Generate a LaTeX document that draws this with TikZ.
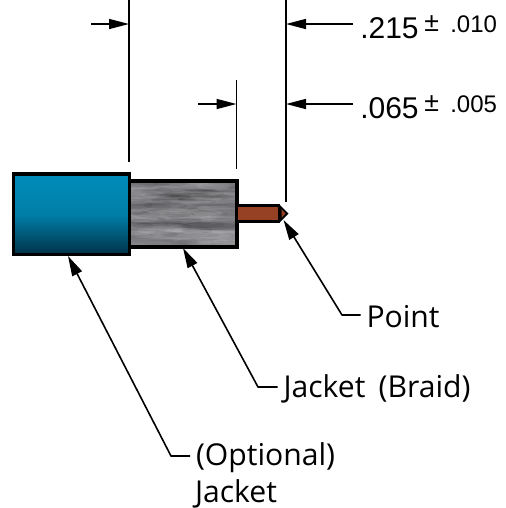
\documentclass[tikz,border=0pt]{standalone}
\usepackage{fontspec}
\setmainfont[WordSpace=1.7]{Open Sans}
\newfontfamily\dimfont{Liberation Sans}
\usetikzlibrary{arrows.meta}
\definecolor{teal1}{RGB}{0,140,185}
\definecolor{teal2}{RGB}{0,50,72}
\definecolor{braid}{RGB}{128,128,133}
\definecolor{copper}{RGB}{150,65,35}
\tikzset{
  x=0.75pt,y=-0.75pt,
  body/.style={draw=black,line width=2.6pt,line join=miter},
  ext/.style={draw=black,line width=1.3pt},
  dimarrow/.style={draw=black,line width=1.1pt,-{Triangle[length=15pt,width=7.5pt]}},
  leader/.style={draw=black,line width=1.2pt,line join=round,{Triangle[length=15pt,width=8pt]}-},
  lab/.style={font=\fontsize{22.6pt}{26pt}\selectfont,anchor=west,inner sep=0pt,outer sep=4.5pt,text depth=0pt,align=left},
  dimtxt/.style={font=\dimfont\fontsize{22.5pt}{24pt}\selectfont,anchor=base west,inner sep=0pt},
  tol/.style={font=\dimfont\fontsize{18pt}{20pt}\selectfont,anchor=base west,inner sep=0pt},
  tolsign/.style={font=\dimfont\fontsize{20pt}{20pt}\selectfont,anchor=base west,inner sep=0pt}
}
\begin{document}
\begin{tikzpicture}
\useasboundingbox (0,0) rectangle (506,508);
% braid with mottled streaks
\fill[braid] (130,181) rectangle (237,247);
\begin{scope}
\clip (130,181) rectangle (237,247);
\pgfmathsetseed{11}
\foreach \i in {1,...,70}{
  \pgfmathsetmacro{\px}{130+107*rnd}
  \pgfmathsetmacro{\py}{183+62*rnd}
  \pgfmathsetmacro{\rx}{14+28*rnd}
  \pgfmathsetmacro{\ry}{1.5+3*rnd}
  \fill[black,opacity=0.07] (\px,\py) ellipse [x radius=\rx,y radius=\ry];
  \pgfmathsetmacro{\qx}{130+107*rnd}
  \pgfmathsetmacro{\qy}{183+62*rnd}
  \fill[white,opacity=0.07] (\qx,\qy) ellipse [x radius=\rx,y radius=\ry];
}
\end{scope}
\draw[body] (130,181) -- (237,181) -- (237,247) -- (130,247);
% conductor
\node[draw=black,line width=2pt,fill=copper,inner sep=0pt,outer sep=0pt,minimum width=31.5pt,minimum height=12pt,anchor=west] (wire) at (237,213.5) {};
\fill[black] (279,204) -- (288.5,213.5) -- (279,223) -- cycle;
\fill[copper] (281.5,209) -- (285.5,213.5) -- (281.5,218) -- cycle;
% jacket
\node[body,outer sep=0pt,minimum width=87pt,minimum height=60.2pt,inner sep=0pt,anchor=north west,
  shade,top color=teal1,bottom color=teal2,middle color=teal1!85!teal2,shading angle=0] (jacket) at (13.7,174) {};
% extension lines
\coordinate (e1a) at (129,0); \coordinate (e1b) at (129,162);
\coordinate (e2a) at (286,0); \coordinate (e2b) at (286,202);
\coordinate (e3a) at (236.5,80); \coordinate (e3b) at (236.5,169);
\draw[ext] (e1a) -- (e1b);
\draw[ext] (e2a) -- (e2b);
\draw[ext] (e3a) -- (e3b);
% dimension arrows
\coordinate (d1) at (91,24);  \coordinate (d1t) at (129,24);
\coordinate (d2) at (353,24); \coordinate (d2t) at (286,24);
\coordinate (d3) at (198,104); \coordinate (d3t) at (236.5,104);
\coordinate (d4) at (353,104); \coordinate (d4t) at (286,104);
\draw[dimarrow] (d1) -- (d1t);
\draw[dimarrow] (d2) -- (d2t);
\draw[dimarrow] (d3) -- (d3t);
\draw[dimarrow] (d4) -- (d4t);
% dimension text
\node[dimtxt] (t1) at (360,38) {.215};
\node[tolsign] (t1b) at (424,31.5) {±};
\node[tol] (t1c) at (450,32) {.010};
\node[dimtxt] (t2) at (360,118) {.065};
\node[tolsign] (t2b) at (424,111.5) {±};
\node[tol] (t2c) at (450,112) {.005};
% labels
\node[lab,text height=18pt] (point) at (360.5,315) {Point};
\node[lab,text height=15pt] (braidl) at (277.5,387) {Jacket (Braid)};
\node[lab,text height=13.5pt] (opt) at (190,456) {(Optional)};
\node[lab,anchor=base west] (jk) at (189,502) {Jacket};
% leaders
\coordinate (p1) at (283.5,220);
\coordinate (b1) at (183,248);
\coordinate (j1) at (68,256);
\draw[leader] (p1) -- (342,315) -- (point.west);
\draw[leader] (b1) -- (258,387) -- (braidl.west);
\draw[leader] (j1) -- (171,456) -- (opt.west);
\end{tikzpicture}
\end{document}
